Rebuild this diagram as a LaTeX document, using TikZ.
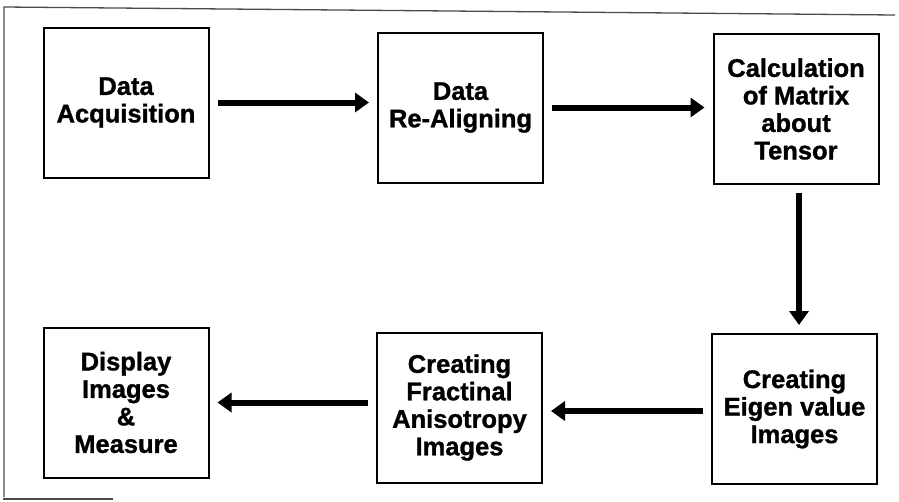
\documentclass[tikz,border=0pt]{standalone}
\usepackage{fontspec}
\setmainfont[BoldFeatures={FakeBold=1.2}]{Liberation Sans}
\usetikzlibrary{arrows.meta}
\begin{document}
\begin{tikzpicture}[x=1pt,y=-1pt,
  stepbox/.style={draw=black,line width=2pt,minimum width=165pt,minimum height=150pt,
    align=center,inner sep=0pt,font=\bfseries\fontsize{25.5}{27.5}\selectfont},
  arr/.style={line width=6pt,-{Triangle[length=14pt,width=19pt]},shorten <=8pt,shorten >=8pt},
  frame/.style={draw=black!70,line width=1.3pt}]
\useasboundingbox (0,0) rectangle (899,501);
\draw[frame] (3,499) -- (113,499);
\draw[frame] (4,497) -- (4,7) -- (895,15);
\node[stepbox] (B1) at (126,102.5) {Data\\Acquisition};
\node[stepbox] (B2) at (460.5,107.5) {Data\\Re-Aligning};
\node[stepbox] (B3) at (796,109) {Calculation\\of Matrix\\about\\Tensor};
\node[stepbox] (B4) at (794.5,409) {Creating\\Eigen value\\Images};
\node[stepbox] (B5) at (459.5,407.5) {Creating\\Fractinal\\Anisotropy\\Images};
\node[stepbox] (B6) at (126,402.5) {Display\\Images\\\&\\Measure};
\draw[arr] (B1.east) -- (B2.west |- B1.east);
\draw[arr] (B2.east) -- (B3.west |- B2.east);
\draw[arr] ([xshift=3pt]B3.south) -- ([xshift=3pt]B4.north -| B3.south);
\draw[arr] ([yshift=-2pt]B4.west) -- ([yshift=-2pt]B5.east |- B4.west);
\draw[arr] (B5.west |- B6.east) -- (B6.east);
\end{tikzpicture}
\end{document}
